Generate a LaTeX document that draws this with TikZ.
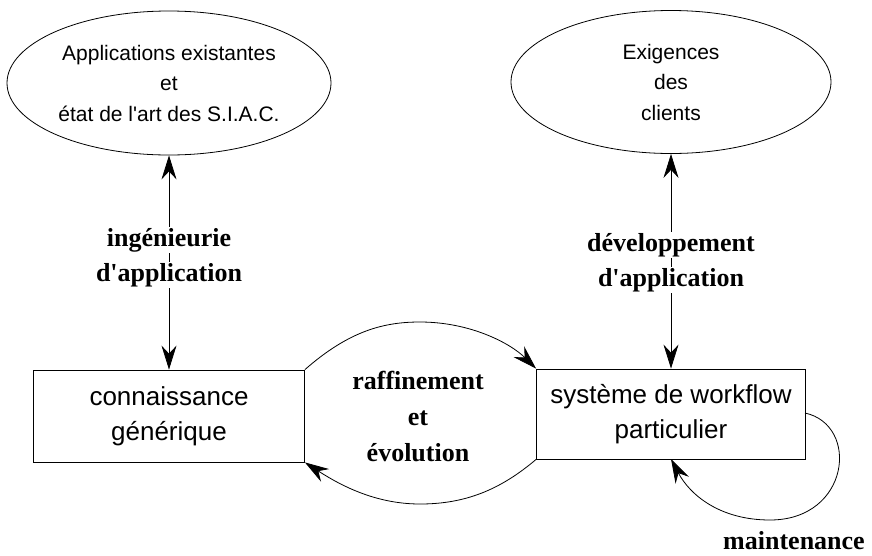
\documentclass[tikz,border=0pt]{standalone}
\usepackage{fontspec}
\setmainfont{Liberation Serif}
\newfontfamily\arialf{Liberation Sans}
\usetikzlibrary{shapes.geometric,arrows.meta}
\tikzset{
  ell/.style={ellipse,draw,line width=0.8pt,inner sep=0pt,align=center,font=\arialf\fontsize{21}{30.5}\selectfont},
  boxnode/.style={rectangle,draw,line width=0.8pt,inner sep=0pt,align=center,font=\arialf\fontsize{26}{35}\selectfont},
  lbl/.style={font=\bfseries\fontsize{26}{36}\selectfont,align=center,inner sep=1pt},
  lblw/.style={lbl,fill=white},
  conn/.style={line width=0.8pt,{Stealth[length=24pt,width=15pt,inset=8pt]}-{Stealth[length=24pt,width=15pt,inset=8pt]}},
  arr/.style={line width=0.8pt,-{Stealth[length=24pt,width=15pt,inset=8pt]}}
}
\begin{document}
\begin{tikzpicture}[x=1pt,y=-1pt]
\useasboundingbox[fill=white] (0,0) rectangle (872,555);
\node[ell,minimum width=324pt,minimum height=144pt] (e1) at (169,83) {Applications existantes\\et\\état de l'art des S.I.A.C.};
\node[ell,minimum width=320pt,minimum height=143pt] (e2) at (671,82) {Exigences\\des\\clients};
\node[boxnode,minimum width=271pt,minimum height=92pt] (b1) at (169,416) {connaissance\\générique};
\node[boxnode,minimum width=269pt,minimum height=90pt] (b2) at (671,414) {système de workflow\\particulier};
\coordinate (b1ne) at (b1.north east);
\coordinate (b1se) at (b1.south east);
\coordinate (b2nw) at (b2.north west);
\coordinate (b2sw) at (b2.south west);
\coordinate (b2r) at (805,413);
\coordinate (b2b) at (671,459);
\draw[conn] (e1.south) -- (b1.north);
\draw[conn] (e2.south) -- (b2.north);
\node[lblw] (l1a) at (169,240) {ingénieurie};
\node[lblw] (l1b) at (169,275) {d\textquotesingle application};
\node[lblw] (l2a) at (671,245) {développement};
\node[lblw] (l2b) at (671,280) {d\textquotesingle application};
\draw[arr] (b1ne) .. controls (350,330) and (385,322) .. (420,322) .. controls (470,322) and (510,343) .. (b2nw);
\draw[arr] (b2sw) .. controls (500,490) and (465,504) .. (420,504) .. controls (375,504) and (340,485) .. (b1se);
\node[lbl] (l3) at (418,416) {raffinement\\et\\évolution};
\draw[arr] (b2r) .. controls (860,425) and (850,520) .. (770,520) .. controls (720,520) and (690,495) .. (b2b);
\node[lbl,anchor=base] (l4) at (794,549) {maintenance};
\end{tikzpicture}
\end{document}
